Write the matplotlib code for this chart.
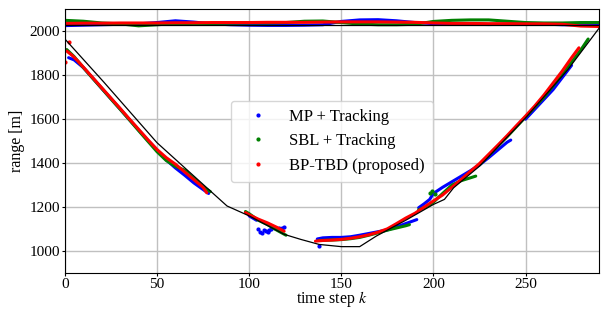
import matplotlib
matplotlib.use("Agg")
import matplotlib.pyplot as plt
from matplotlib.lines import Line2D

# ground truth ranges of the two targets
truth_far_k = [0, 290]
truth_far_r = [2030, 2030]
truth_near_k = [0, 21, 50, 79, 88, 100, 119, 128, 138, 150, 160, 169, 185, 200, 206, 211, 225, 250, 273, 290]
truth_near_r = [1965, 1770, 1493, 1273, 1205, 1160, 1076, 1053, 1030, 1020, 1020, 1068, 1140, 1212, 1235, 1288, 1386, 1606, 1826, 2015]

# far target estimates (k = 0, 10, ..., 290)
top_k = list(range(0, 300, 10))
mp_top_r = [2026, 2028, 2030, 2032, 2034, 2040, 2048, 2042, 2034, 2030, 2028, 2027, 2027, 2028, 2030,
            2045, 2052, 2053, 2048, 2040, 2035, 2032, 2032, 2031, 2032, 2033, 2033, 2030, 2030, 2030]
sbl_top_r = [2050, 2046, 2038, 2034, 2025, 2030, 2035, 2036, 2036, 2037, 2038, 2038, 2040, 2046, 2047,
             2040, 2033, 2030, 2030, 2032, 2045, 2050, 2052, 2052, 2046, 2040, 2038, 2038, 2040, 2040]
bp_top_r = [2036, 2037, 2037, 2038, 2038, 2038, 2039, 2039, 2040, 2040, 2040, 2041, 2041, 2041, 2042,
            2043, 2043, 2043, 2042, 2041, 2038, 2036, 2036, 2035, 2035, 2034, 2034, 2032, 2024, 2022]

# MP + Tracking, near target (track pieces)
mp_segs = [
    ([2, 5, 10, 15, 20, 25, 30, 35, 40, 45, 50, 55, 60, 65, 70, 75, 78],
     [1880, 1870, 1835, 1788, 1740, 1693, 1646, 1598, 1551, 1504, 1460, 1415, 1378, 1345, 1310, 1280, 1262]),
    ([100, 102, 104], [1160, 1150, 1140]),
    ([137, 140, 145, 150, 155, 160, 165, 170, 175, 180, 185, 191],
     [1055, 1060, 1062, 1062, 1065, 1072, 1080, 1088, 1096, 1110, 1125, 1143]),
    ([192, 195, 198, 200, 205, 210, 215, 220, 225, 230, 235, 240, 242],
     [1197, 1215, 1235, 1262, 1290, 1315, 1340, 1365, 1392, 1425, 1460, 1495, 1505]),
    ([250, 255, 260, 265, 270, 275], [1600, 1645, 1690, 1735, 1790, 1845]),
]
mp_out_k = [105, 106, 107, 108, 109, 110, 111, 112, 114, 116, 118, 119, 138]
mp_out_r = [1098, 1088, 1082, 1095, 1090, 1085, 1095, 1100, 1104, 1106, 1107, 1110, 1025]

# SBL + Tracking, near target
sbl_segs = [
    ([1, 5, 10, 15, 20, 25, 30, 35, 40, 45, 50, 55, 60, 65, 70, 75, 79],
     [1917, 1885, 1835, 1787, 1740, 1692, 1645, 1597, 1548, 1500, 1452, 1412, 1385, 1368, 1330, 1292, 1270]),
    ([98, 100, 105, 110, 115, 120], [1180, 1170, 1140, 1120, 1095, 1072]),
    ([138, 145, 150, 155, 160, 165, 170, 175, 180, 185, 187],
     [1048, 1050, 1052, 1056, 1062, 1072, 1083, 1095, 1105, 1115, 1120]),
    ([192, 196, 200, 205, 210, 215, 220, 223], [1188, 1200, 1222, 1262, 1300, 1320, 1333, 1341]),
    ([225, 230, 235, 240, 245, 250, 255, 260, 265, 270, 275, 280, 284],
     [1392, 1435, 1478, 1520, 1565, 1610, 1655, 1700, 1752, 1805, 1860, 1915, 1965]),
]
sbl_out_k = [198, 199, 201]
sbl_out_r = [1265, 1275, 1258]

# BP-TBD (proposed), near target
bp_segs = [
    ([1, 4, 7, 10, 15, 20, 25, 30, 35, 40, 45, 50, 55, 60, 65, 70, 75, 77],
     [1910, 1890, 1865, 1837, 1790, 1743, 1696, 1649, 1601, 1554, 1507, 1462, 1425, 1395, 1360, 1325, 1290, 1265]),
    ([98, 100, 105, 110, 115, 119], [1175, 1165, 1145, 1128, 1108, 1090]),
    ([136, 140, 145, 150, 155, 160, 165, 170, 175, 180, 185, 190, 195, 200, 205, 210, 215, 220,
      225, 230, 235, 240, 245, 250, 255, 260, 265, 270, 275, 279],
     [1045, 1048, 1050, 1053, 1058, 1065, 1074, 1086, 1101, 1125, 1150, 1172, 1200, 1228, 1255, 1290,
      1325, 1362, 1398, 1440, 1482, 1525, 1570, 1614, 1660, 1710, 1765, 1820, 1880, 1925]),
]
bp_out_k = [0, 2]
bp_out_r = [1862, 1950]

plt.rcParams['font.family'] = 'serif'
plt.rcParams['font.serif'] = ['Liberation Serif']
plt.rcParams['mathtext.fontset'] = 'stix'
plt.rcParams['font.size'] = 11.5

fig = plt.figure(figsize=(6.01, 3.12), dpi=100)
ax = fig.add_axes([0.108, 0.125, 0.889, 0.845])

methods = [
    ('MP + Tracking', 'blue', mp_top_r, mp_segs, mp_out_k, mp_out_r),
    ('SBL + Tracking', 'green', sbl_top_r, sbl_segs, sbl_out_k, sbl_out_r),
    ('BP-TBD (proposed)', 'red', bp_top_r, bp_segs, bp_out_k, bp_out_r),
]

handles = []
for label, color, top_r, segs, out_k, out_r in methods:
    # estimates are so dense they look like thick traces
    ax.plot(top_k, top_r, color=color, lw=2.2, solid_capstyle='round', zorder=2)
    for k, r in segs:
        ax.plot(k, r, color=color, lw=2.2, solid_capstyle='round', zorder=2)
    ax.plot(out_k, out_r, '.', color=color, ms=4, zorder=2)
    handles.append(Line2D([], [], ls='none', marker='.', ms=4, color=color, label=label))

ax.plot(truth_far_k, truth_far_r, color='black', lw=0.9, zorder=3)
ax.plot(truth_near_k, truth_near_r, color='black', lw=0.9, zorder=3)

ax.set_xlim(0, 290)
ax.set_ylim(900, 2100)
ax.set_xticks([0, 50, 100, 150, 200, 250])
ax.set_yticks([1000, 1200, 1400, 1600, 1800, 2000])
ax.grid(True, color='#c0c0c0', lw=1)
ax.set_axisbelow(True)
ax.tick_params(length=2, pad=1.5, labelsize=11)
ax.set_xlabel('time step $k$', labelpad=-1)
ax.set_ylabel('range [m]', labelpad=3)
ax.legend(handles=handles, loc='center', fontsize=12, handlelength=2.2, borderpad=0.5)

fig.savefig('out.png', dpi=100)
